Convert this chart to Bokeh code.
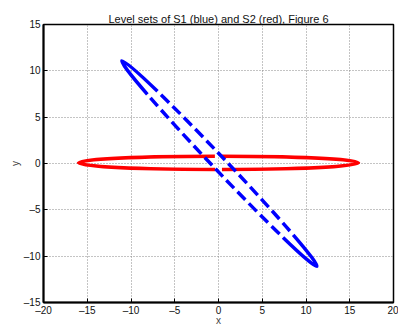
from bokeh.plotting import figure
from bokeh.models import FixedTicker, Range1d
from bokeh.embed import file_html
from bokeh.resources import INLINE

# ---- data ----
x_ticks = [-20, -15, -10, -5, 0, 5, 10, 15, 20]
y_ticks = [-15, -10, -5, 0, 5, 10, 15]
x_tick_labels = ["\u201320", "\u201315", "\u201310", "\u20135", "0", "5", "10", "15", "20"]
y_tick_labels = ["\u201315", "\u201310", "\u20135", "0", "5", "10", "15"]

# level-set ellipses: S1 (blue, tilted) and S2 (red, horizontal)
s1_center_x = [0.1]
s1_center_y = [0.0]
s1_width = [32.4]      # major axis extent
s1_height = [1.4]      # minor axis extent
s1_angle_deg = [-46.5]

s2_center_x = [0.0]
s2_center_y = [0.07]
s2_width = [32.0]
s2_height = [1.44]
s2_angle_deg = [0.0]

FONT = "Liberation Sans"

# styles: sampled-contour look (solid near tips, broken in the middle)
blue_dash = [45] + [5, 11] * 12 + [5, 90] + [5, 11] * 12 + [5, 300, 0]
red_dash = [137, 7, 274, 7, 300, 0]

p = figure(width=398, height=328, output_backend="svg", toolbar_location=None,
           x_range=Range1d(-20, 20), y_range=Range1d(-15, 15),
           min_border_left=43, min_border_right=5, min_border_top=24, min_border_bottom=26,
           title="Level sets of S1 (blue) and S2 (red), Figure 6")
p.background_fill_color = "white"
p.border_fill_color = "white"
p.outline_line_color = "black"
p.outline_line_width = 1.5

p.title.align = "center"
p.title.text_font = FONT
p.title.text_font_size = "11px"
p.title.text_font_style = "normal"
p.title.text_color = "#111111"
p.title.standoff = 0

p.xaxis.ticker = FixedTicker(ticks=x_ticks)
p.yaxis.ticker = FixedTicker(ticks=y_ticks)
p.xaxis.major_label_overrides = dict(zip(x_ticks, x_tick_labels))
p.yaxis.major_label_overrides = dict(zip(y_ticks, y_tick_labels))
p.xaxis.axis_label = "x"
p.yaxis.axis_label = "y"

for ax in (p.xaxis[0], p.yaxis[0]):
    ax.axis_line_width = 2
    ax.axis_line_color = "black"
    ax.major_tick_in = 4
    ax.major_tick_out = 0
    ax.minor_tick_line_color = None
    ax.major_label_text_font = FONT
    ax.major_label_text_font_size = "10px"
    ax.major_label_text_color = "#111111"
    ax.major_label_standoff = 3
    ax.axis_label_text_font = FONT
    ax.axis_label_text_font_size = "10px"
    ax.axis_label_text_font_style = "normal"
    ax.axis_label_standoff = 0

p.xaxis.major_label_standoff = 2
p.xaxis.axis_label_standoff = -4

for g, tk in ((p.xgrid[0], x_ticks), (p.ygrid[0], y_ticks)):
    g.ticker = FixedTicker(ticks=tk)
    g.grid_line_color = "#888888"
    g.grid_line_dash = "1 2"
    g.grid_line_width = 1

p.ellipse(x=s2_center_x, y=s2_center_y, width=s2_width, height=s2_height,
          angle=s2_angle_deg, angle_units="deg", fill_color=None,
          line_color="#ff0000", line_width=3.5, line_dash=" ".join(map(str, red_dash)))
p.ellipse(x=s1_center_x, y=s1_center_y, width=s1_width, height=s1_height,
          angle=s1_angle_deg, angle_units="deg", fill_color=None,
          line_color="#0000ff", line_width=3.5, line_dash=" ".join(map(str, blue_dash)))

open("out.html", "w").write(file_html(p, INLINE))
